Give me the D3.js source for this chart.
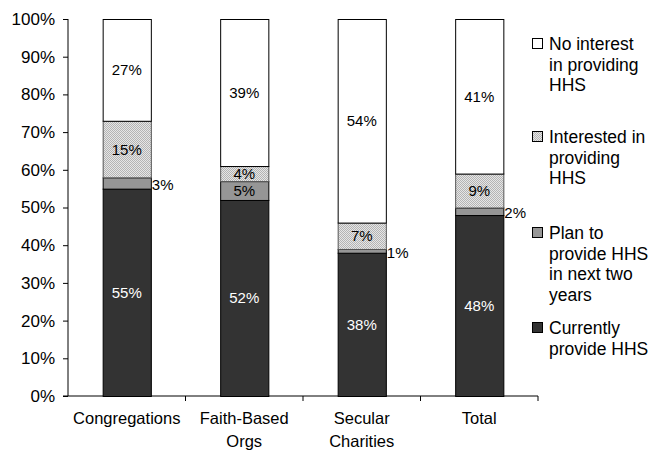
<!DOCTYPE html>
<html><head><meta charset="utf-8">
<script src="https://cdn.jsdelivr.net/npm/d3@7"></script>
<style>body{margin:0;background:#fff}svg{display:block;font-family:"Liberation Sans",Arial,sans-serif}</style>
</head><body><svg id="c" width="650" height="450"></svg>
<script>
const categories = [["Congregations"], ["Faith-Based", "Orgs"], ["Secular", "Charities"], ["Total"]];
const seriesNames = [
  ["Currently", "provide HHS"],
  ["Plan to", "provide HHS", "in next two", "years"],
  ["Interested in", "providing", "HHS"],
  ["No interest", "in providing", "HHS"]
];
const currently = [55, 52, 38, 48];
const planTo = [3, 5, 1, 2];
const interested = [15, 4, 7, 9];
const noInterest = [27, 39, 54, 41];
const yTicks = [0, 10, 20, 30, 40, 50, 60, 70, 80, 90, 100];

const svg = d3.select("#c");
const defs = svg.append("defs");
const pat = defs.append("pattern").attr("id", "dots").attr("width", 2).attr("height", 2).attr("patternUnits", "userSpaceOnUse");
pat.append("rect").attr("width", 2).attr("height", 2).attr("fill", "#e6e6e6");
pat.append("rect").attr("width", 1).attr("height", 1).attr("fill", "#b4b4b4");
pat.append("rect").attr("x", 1).attr("y", 1).attr("width", 1).attr("height", 1).attr("fill", "#b4b4b4");

const fills = ["#333333", "#969696", "url(#dots)", "#ffffff"];
const labelColors = ["#ffffff", "#000", "#000", "#000"];
const series = [currently, planTo, interested, noInterest];

const x0 = 68, x1 = 538, yTop = 19, yBot = 396;
const x = d3.scaleBand().domain(d3.range(categories.length)).range([x0, x1]).paddingInner(0.59).paddingOuter(0.295);
const y = d3.scaleLinear().domain([0, 100]).range([yBot, yTop]);

// y axis
const yAxis = svg.append("g").attr("transform", `translate(${x0},0)`)
  .call(d3.axisLeft(y).tickValues(yTicks).tickFormat(d => d + "%").tickSize(5).tickPadding(8));
yAxis.select(".domain").attr("stroke", "#000").attr("d", `M0,${yTop}V${yBot}`);
yAxis.selectAll("text").attr("font-size", 17).attr("fill", "#000").attr("font-family", "'Liberation Sans', Arial, sans-serif");

// x axis baseline and ticks
const xb = d3.scaleLinear().domain([0, categories.length]).range([x0, x1]);
svg.append("line").attr("x1", x0 - 5).attr("x2", x1).attr("y1", yBot).attr("y2", yBot).attr("stroke", "#000");
svg.selectAll(".xt").data(d3.range(1, categories.length + 1)).enter().append("line")
  .attr("x1", d => xb(d)).attr("x2", d => xb(d)).attr("y1", yBot).attr("y2", yBot + 5).attr("stroke", "#000");

// bars
const stack = d3.stack().keys([0, 1, 2, 3]).value((d, k) => series[k][d]);
const stacked = stack(d3.range(categories.length));
stacked.forEach((layer, k) => {
  const g = svg.append("g");
  layer.forEach((seg, i) => {
    g.append("rect")
      .attr("x", x(i) + 0.5).attr("width", x.bandwidth())
      .attr("y", y(seg[1]) + 0.5).attr("height", y(seg[0]) - y(seg[1]))
      .attr("fill", fills[k]).attr("stroke", k === 2 ? "#555" : "#000").attr("stroke-width", 1);
  });
});
// labels
stacked.forEach((layer, k) => {
  layer.forEach((seg, i) => {
    const v = series[k][i];
    const cy = (y(seg[0]) + y(seg[1])) / 2;
    const small = v < 4;
    svg.append("text")
      .attr("x", small ? x(i) + x.bandwidth() + 1 : x(i) + x.bandwidth() / 2)
      .attr("y", cy + (small ? 7 : 5.5))
      .attr("text-anchor", small ? "start" : "middle")
      .attr("font-size", 15)
      .attr("fill", small ? "#000" : labelColors[k])
      .text(v + "%");
  });
});

// category labels
categories.forEach((lines, i) => {
  lines.forEach((t, j) => {
    svg.append("text").attr("x", x(i) + x.bandwidth() / 2).attr("y", 424 + j * 23)
      .attr("text-anchor", "middle").attr("font-size", 16.5).attr("fill", "#000").text(t);
  });
});

// legend (top to bottom: no interest, interested, plan, currently)
const legendOrder = [3, 2, 1, 0];
const legendTop = [44, 137, 233, 328];
legendOrder.forEach((k, n) => {
  const ty = legendTop[n];
  svg.append("rect").attr("x", 532.5).attr("y", ty - 5.5).attr("width", 10).attr("height", 10)
    .attr("fill", fills[k]).attr("stroke", "#000");
  seriesNames[k].forEach((t, j) => {
    svg.append("text").attr("x", 549).attr("y", ty + 6 + j * 20.5).attr("font-size", 17.5).attr("fill", "#000").text(t);
  });
});
</script></body></html>
